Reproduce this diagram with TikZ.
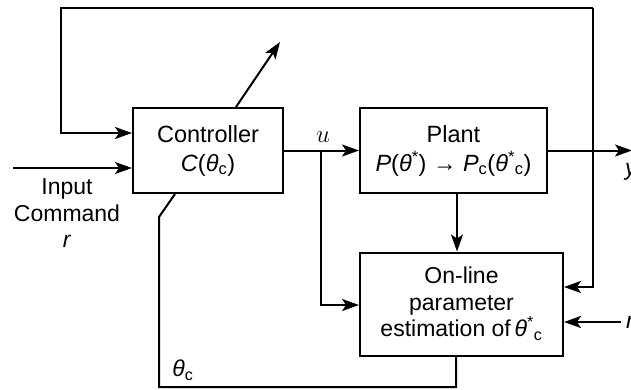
\documentclass[tikz,border=0pt]{standalone}
\usepackage{fontspec}
\setmainfont{Liberation Sans}
\usetikzlibrary{arrows.meta}
\newcommand{\thc}{\textit{θ}\textsubscript{c}}
\newcommand{\ths}{\textit{θ}\textsuperscript{*}}
\begin{document}
\begin{tikzpicture}[x=1pt,y=-1pt,line width=2pt,
  blk/.style={draw,line width=2pt,align=center,inner sep=0pt,font=\fontsize{23.5}{29}\selectfont},
  blkb/.style={blk,font=\fontsize{23}{26.5}\selectfont},
  arr/.style={-{Stealth[length=17pt,width=12pt,inset=4pt]}},
  lbl/.style={inner sep=0pt,font=\fontsize{23}{26.5}\selectfont}]
\fill[white] (0,0) rectangle (631,389);
\useasboundingbox (0,0) rectangle (631,389);
% blocks
\node[blk,minimum width=150pt,minimum height=85pt] (ctl) at (208,150.5)
  {Controller\\\textit{C}(\thc)};
\node[blk,minimum width=187pt,minimum height=85pt] (plant) at (453.5,150.5)
  {Plant\\\textit{P}(\ths) → \textit{P}\textsubscript{c}(\ths\textsubscript{c})};
\node[blkb,minimum width=203pt,minimum height=103pt] (est) at (461.5,304)
  {On-line\\parameter\\estimation of\,\ths\textsubscript{c}};
% coordinates
\coordinate (tl) at (61,8);
\coordinate (tr) at (593,8);
\coordinate (in) at (13,168);
\coordinate (ub) at (321,150.5);
\coordinate (out) at (632,150.5);
\coordinate (rin) at (621,322);
\coordinate (adj) at (280,42);
\coordinate (bl) at (159,387);
\coordinate (bd) at (159,217);
% connectors
\draw[arr] (tr) -- (tl) |- (ctl.west |- 0,133);
\draw[arr] (tr) |- (est.east |- 0,287);
\draw[arr] (in) -- (ctl.west |- in);
\draw[arr] (ctl) -- (plant);
\draw[arr] (ub) |- (est.west |- 0,305);
\draw[arr] (plant) -- (out);
\draw[arr] ([xshift=3.5]plant.south) -- ([xshift=-4.5]est.north);
\draw[arr] (rin) -- (est.east |- rin);
\draw[arr] (ctl.north -| 236,0) -- (adj);
\draw ([xshift=-5.5]est.south) |- (bl) -- (bd) -- (ctl.south -| 175,0);
% labels
\node[lbl,align=center] (cmd) at (67,213.5) {Input\\Command\\\textit{r}};
\node[inner sep=0pt,font=\fontsize{24}{28}\selectfont] (ulbl) at (323,137) {$u$};
\node[lbl] (thlbl) at (183,370) {\thc};
\node[lbl,anchor=west] (ylbl) at (624,172) {\textit{y}};
\node[lbl,anchor=west] (rlbl) at (625,322) {\textit{r}};
\end{tikzpicture}
\end{document}
